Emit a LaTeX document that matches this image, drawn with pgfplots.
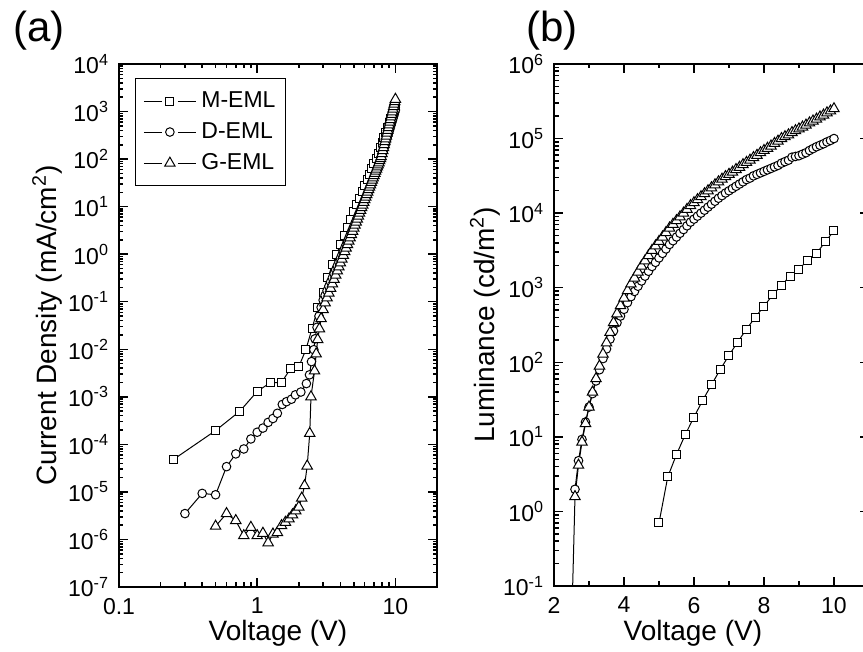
\documentclass[border=0pt]{standalone}
\usepackage{fontspec}
\setmainfont{Liberation Sans}
\usepackage{pgfplots}
\pgfplotsset{compat=1.18}
\newcommand{\lblfont}{\fontsize{14}{16}\selectfont}
\newcommand{\legfont}{\fontsize{11.5}{13}\selectfont}
\pgfplotsset{
  myax/.style={
    scale only axis, clip=true,
    axis line style={line width=1pt},
    every tick/.style={black, line width=0.75pt},
    major tick length=4.5pt, minor tick length=2.25pt,
    tick align=inside,
    ticklabel style={font=\fontsize{11.5}{13}\selectfont, inner sep=0.5pt},
    xticklabel style={yshift=-4.8pt},
    yticklabel style={xshift=-4.3pt},
    every axis plot/.append style={black, line width=0.5pt},
    mark options={fill=white, solid, line width=0.5pt},
  },
  mser/.style={mark=square*, mark size=2pt},
  dser/.style={mark=*, mark size=2.15pt},
  gser/.style={mark=triangle*, mark size=3pt},
}
\begin{document}
\begin{tikzpicture}
% ---------------- (a) ----------------
\begin{axis}[myax,
  at={(0pt,0pt)}, anchor=south west,
  width=159pt, height=261.5pt,
  xmode=log, ymode=log,
  xmin=0.1, xmax=20, ymin=1e-7, ymax=1e4,
  xtick={0.1,1,10}, xticklabels={0.1,1,10},
  minor xtick={0.2,0.3,0.4,0.5,0.6,0.7,0.8,0.9,2,3,4,5,6,7,8,9},
  ytick={1e-7,1e-6,1e-5,1e-4,1e-3,1e-2,1e-1,1,10,100,1000,10000},
  yticklabels={10\textsuperscript{-7},10\textsuperscript{-6},10\textsuperscript{-5},10\textsuperscript{-4},10\textsuperscript{-3},10\textsuperscript{-2},10\textsuperscript{-1},10\textsuperscript{0},10\textsuperscript{1},10\textsuperscript{2},10\textsuperscript{3},10\textsuperscript{4}},
  minor ytick={2e-7,3e-7,4e-7,5e-7,6e-7,7e-7,8e-7,9e-7,
    2e-6,3e-6,4e-6,5e-6,6e-6,7e-6,8e-6,9e-6,
    2e-5,3e-5,4e-5,5e-5,6e-5,7e-5,8e-5,9e-5,
    2e-4,3e-4,4e-4,5e-4,6e-4,7e-4,8e-4,9e-4,
    2e-3,3e-3,4e-3,5e-3,6e-3,7e-3,8e-3,9e-3,
    2e-2,3e-2,4e-2,5e-2,6e-2,7e-2,8e-2,9e-2,
    0.2,0.3,0.4,0.5,0.6,0.7,0.8,0.9,
    2,3,4,5,6,7,8,9,20,30,40,50,60,70,80,90,
    200,300,400,500,600,700,800,900,2000,3000,4000,5000,6000,7000,8000,9000},
  xlabel={Voltage (V)},
  ylabel={Current Density (mA/cm\textsuperscript{2})},
  every axis x label/.style={at={(axis description cs:0.5,-0.088)}, anchor=center, font=\lblfont, inner sep=0pt},
  every axis y label/.style={at={(axis description cs:-0.226,0.5)}, anchor=center, rotate=90, font=\lblfont, inner sep=0pt},
  legend style={at={(rel axis cs:0.05,0.973)}, anchor=north west, draw=black, line width=0.5pt,
    inner xsep=4pt, inner ysep=5.5pt, row sep=4.1pt, column sep=1.5pt, font=\legfont,
    nodes={font=\legfont, inner sep=1pt}},
  legend cell align=left,
  legend image code/.code={%
    \draw[#1,mark=none] (0pt,0pt) -- (9pt,0pt) (17pt,0pt) -- (26pt,0pt);
    \draw[#1] plot[only marks] coordinates {(13pt,0pt)};},
]
\addplot[mser] coordinates {
(0.25,4.9e-5) (0.5,1.95e-4) (0.75,5.0e-4) (1.0,1.3e-3) (1.25,2.0e-3) (1.5,2.0e-3) (1.75,4.0e-3) (2.0,4.3e-3) (2.25,9.8e-3) (2.5,2.8e-2) (2.75,7.4e-2) (3.0,0.16) (3.25,0.32) (3.5,0.6) (3.75,1.0) (4.0,1.6) (4.25,2.48) (4.5,3.7) (4.75,5.41) (5.0,7.74) (5.25,10.9) (5.5,15.1) (5.75,20.6) (6.0,27.7) (6.25,36.9) (6.5,48.5) (6.75,63.2) (7.0,81.7) (7.25,104) (7.5,132) (7.75,173) (8.0,223) (8.25,286) (8.5,365) (8.75,461) (9.0,579) (9.25,723) (9.5,897) (9.75,1109) (10.0,1361)
};
\addlegendentry{\legfont M-EML}
\addplot[dser] coordinates {
(0.3,3.5e-6) (0.4,9.3e-6) (0.5,8.7e-6) (0.6,3.4e-5) (0.7,6.3e-5) (0.8,8.0e-5) (0.9,1.3e-4) (1.0,1.8e-4) (1.1,2.2e-4) (1.2,2.9e-4) (1.3,3.5e-4) (1.4,4.5e-4) (1.52,6.9e-4) (1.63,7.9e-4) (1.77,8.9e-4) (1.89,1.1e-3) (2.07,1.26e-3) (2.27,1.9e-3) (2.39,2.9e-3) (2.47,5.5e-3) (2.57,9.8e-3) (2.62,0.0166) (2.71,0.029) (2.8,0.050) (2.9,0.076) (3.0,0.108) (3.1,0.136) (3.2,0.170) (3.3,0.211) (3.4,0.261) (3.5,0.319) (3.6,0.388) (3.7,0.471) (3.8,0.568) (3.9,0.681) (4.0,0.813) (4.1,0.966) (4.2,1.14) (4.3,1.35) (4.4,1.58) (4.5,1.85) (4.6,2.16) (4.7,2.51) (4.8,2.91) (4.9,3.37) (5.0,3.87) (5.1,4.46) (5.2,5.09) (5.3,5.82) (5.4,6.64) (5.5,7.55) (5.6,8.57) (5.7,9.70) (5.8,10.9) (5.9,12.4) (6.0,13.9) (6.1,15.6) (6.2,17.5) (6.3,19.5) (6.4,21.8) (6.5,24.3) (6.6,27.0) (6.7,30.1) (6.8,33.3) (6.9,36.9) (7.0,40.8) (7.1,45.1) (7.2,49.7) (7.3,54.7) (7.4,60.3) (7.5,66.2) (7.6,75.2) (7.7,85.1) (7.8,96.4) (7.9,109) (8.0,123) (8.1,138) (8.2,155) (8.3,175) (8.4,196) (8.5,220) (8.6,246) (8.7,275) (8.8,308) (8.9,344) (9.0,383) (9.1,427) (9.2,474) (9.3,528) (9.4,586) (9.5,650) (9.6,721) (9.7,800) (9.8,883) (9.9,977) (10.0,1081)
};
\addlegendentry{\legfont D-EML}
\addplot[gser] coordinates {
(0.5,1.9e-6) (0.6,3.5e-6) (0.7,2.5e-6) (0.8,1.2e-6) (0.9,1.8e-6) (1.0,1.2e-6) (1.1,1.35e-6) (1.2,8.5e-7) (1.3,1.3e-6) (1.4,1.4e-6) (1.5,1.95e-6) (1.6,2.3e-6) (1.7,2.7e-6) (1.8,3.3e-6) (1.9,4.0e-6) (2.0,4.8e-6) (2.1,7.4e-6) (2.2,1.35e-5) (2.3,3.5e-5) (2.4,1.7e-4) (2.45,1.0e-3) (2.6,3.5e-3) (2.67,8e-3) (2.74,0.016) (2.82,0.027) (2.9,0.044) (3.0,0.068) (3.1,0.095) (3.2,0.121) (3.3,0.152) (3.4,0.191) (3.5,0.238) (3.6,0.294) (3.7,0.362) (3.8,0.444) (3.9,0.540) (4.0,0.653) (4.1,0.787) (4.2,0.944) (4.3,1.13) (4.4,1.34) (4.5,1.59) (4.6,1.88) (4.7,2.21) (4.8,2.59) (4.9,3.03) (5.0,3.53) (5.1,4.10) (5.2,4.74) (5.3,5.48) (5.4,6.31) (5.5,7.26) (5.6,8.32) (5.7,9.51) (5.8,10.8) (5.9,12.3) (6.0,14.0) (6.1,15.8) (6.2,17.9) (6.3,20.2) (6.4,22.8) (6.5,25.6) (6.6,28.8) (6.7,32.3) (6.8,36.1) (6.9,40.3) (7.0,44.9) (7.1,50.0) (7.2,55.6) (7.3,61.7) (7.4,68.4) (7.5,75.7) (7.6,83.6) (7.7,92.3) (7.8,102) (7.9,112) (8.0,130) (8.1,151) (8.2,174) (8.3,201) (8.4,232) (8.5,266) (8.6,305) (8.7,350) (8.8,401) (8.9,458) (9.0,522) (9.1,596) (9.2,678) (9.3,771) (9.4,873) (9.5,989) (9.6,1119) (9.7,1268) (9.8,1426) (9.9,1607) (10.0,1811)
};
\addlegendentry{\legfont G-EML}
\end{axis}
% ---------------- (b) ----------------
\begin{axis}[myax,
  at={(217.5pt,0.5pt)}, anchor=south west,
  width=157.5pt, height=261pt,
  ymode=log,
  xmin=2, xmax=11, ymin=0.1, ymax=1e6,
  xtick={2,4,6,8,10}, xticklabels={2,4,6,8,10},
  minor xtick={3,5,7,9},
  ytick={0.1,1,10,100,1000,10000,100000,1000000},
  yticklabels={10\textsuperscript{-1},10\textsuperscript{0},10\textsuperscript{1},10\textsuperscript{2},10\textsuperscript{3},10\textsuperscript{4},10\textsuperscript{5},10\textsuperscript{6}},
  minor ytick={0.2,0.3,0.4,0.5,0.6,0.7,0.8,0.9,
    2,3,4,5,6,7,8,9,20,30,40,50,60,70,80,90,
    200,300,400,500,600,700,800,900,2000,3000,4000,5000,6000,7000,8000,9000,
    20000,30000,40000,50000,60000,70000,80000,90000,
    200000,300000,400000,500000,600000,700000,800000,900000},
  xlabel={Voltage (V)},
  ylabel={Luminance (cd/m\textsuperscript{2})},
  every axis x label/.style={at={(axis description cs:0.441,-0.09)}, anchor=center, font=\lblfont, inner sep=0pt},
  every axis y label/.style={at={(axis description cs:-0.219,0.5)}, anchor=center, rotate=90, font=\lblfont, inner sep=0pt},
]
\addplot[mser] coordinates {
(5.0,0.7) (5.25,2.9) (5.5,5.8) (5.75,10.7) (6.0,18.4) (6.25,31) (6.5,50) (6.75,80) (7.0,124) (7.25,187) (7.5,279) (7.75,400) (8.0,566) (8.25,800) (8.5,1085) (8.75,1430) (9.0,1780) (9.25,2340) (9.5,2880) (9.75,4120) (10.0,5800)
};
\addplot[dser] coordinates {
(2.6,1.98) (2.7,4.79) (2.8,9.25) (2.9,15.8) (3.0,25.1) (3.1,38.0) (3.2,56.2) (3.3,79.4) (3.4,112) (3.5,151) (3.6,204) (3.7,263) (3.8,339) (3.9,417) (4.0,513) (4.1,631) (4.2,759) (4.3,891) (4.4,1047) (4.5,1230) (4.6,1429) (4.7,1660) (4.8,1928) (4.9,2188) (5.0,2512) (5.1,2884) (5.2,3311) (5.3,3802) (5.4,4266) (5.5,4786) (5.6,5370) (5.7,6026) (5.8,6761) (5.9,7586) (6.0,8318) (6.1,9120) (6.2,10000) (6.3,10960) (6.4,12020) (6.5,13180) (6.6,14450) (6.7,15850) (6.8,17180) (6.9,18620) (7.0,19950) (7.1,21380) (7.2,22910) (7.3,24550) (7.4,26300) (7.5,28180) (7.6,29510) (7.7,31620) (7.8,33110) (7.9,34670) (8.0,36310) (8.1,38020) (8.2,39810) (8.3,41690) (8.4,43650) (8.5,46770) (8.6,48980) (8.7,51290) (8.8,56230) (8.9,57540) (9.0,58880) (9.1,61660) (9.2,64570) (9.3,69180) (9.4,73280) (9.5,77620) (9.6,81280) (9.7,85110) (9.8,90160) (9.9,94410) (10.0,100000)
};
\addplot[gser] coordinates {
(2.5,0.025) (2.6,1.58) (2.7,4.17) (2.8,8.51) (2.9,15.1) (3.0,25.1) (3.1,39.8) (3.2,60.3) (3.3,89.1) (3.4,129) (3.5,182) (3.6,251) (3.7,339) (3.8,447) (3.9,575) (4.0,724) (4.1,912) (4.2,1122) (4.3,1349) (4.4,1622) (4.5,1950) (4.6,2291) (4.7,2692) (4.8,3162) (4.9,3631) (5.0,4169) (5.1,4786) (5.2,5495) (5.3,6310) (5.4,7079) (5.5,7943) (5.6,8913) (5.7,10000) (5.8,11220) (5.9,12590) (6.0,13800) (6.1,15140) (6.2,16600) (6.3,18200) (6.4,19950) (6.5,21880) (6.6,23990) (6.7,26300) (6.8,28510) (6.9,30900) (7.0,33110) (7.1,35480) (7.2,38460) (7.3,41210) (7.4,44670) (7.5,47860) (7.6,51290) (7.7,55590) (7.8,59570) (7.9,64570) (8.0,69180) (8.1,74130) (8.2,79430) (8.3,86100) (8.4,92260) (8.5,100000) (8.6,105900) (8.7,112200) (8.8,120200) (8.9,127400) (9.0,134900) (9.1,142900) (9.2,151400) (9.3,162200) (9.4,171800) (9.5,182000) (9.6,195000) (9.7,206500) (9.8,221300) (9.9,234400) (10.0,251200)
};
\end{axis}
\node[font=\fontsize{21}{25}\selectfont] at (-40pt,278pt) {(a)};
\node[font=\fontsize{21}{25}\selectfont] at (216.5pt,278pt) {(b)};
\pgfresetboundingbox
\useasboundingbox (-59.5pt,-32.5pt) rectangle (372pt,293.5pt);
\end{tikzpicture}
\end{document}
